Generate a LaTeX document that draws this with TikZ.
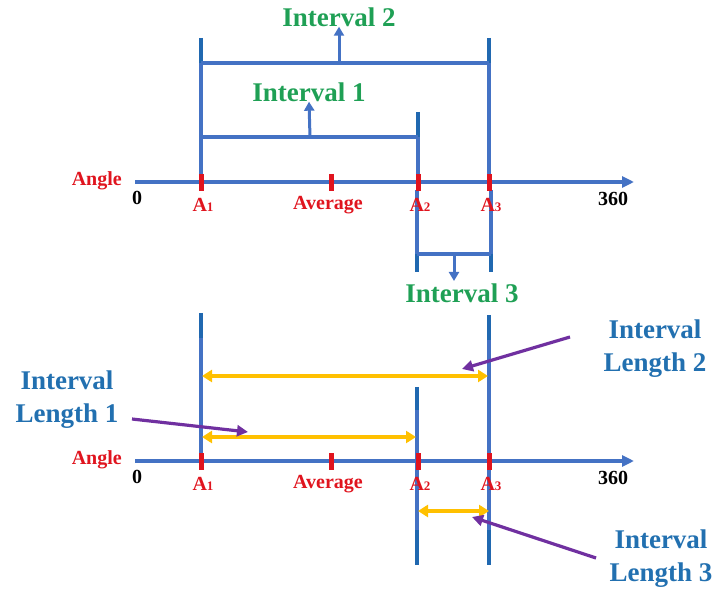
\documentclass[tikz,border=0pt]{standalone}
\usepackage{fontspec}
\setmainfont{Liberation Serif}
\usetikzlibrary{arrows.meta}
\definecolor{axisblue}{HTML}{4472C4}
\definecolor{barblue}{HTML}{2068B0}
\definecolor{tickred}{HTML}{E0141E}
\definecolor{lblgreen}{HTML}{1FA055}
\definecolor{lenblue}{HTML}{2270B0}
\definecolor{ylw}{HTML}{FFC000}
\definecolor{purp}{HTML}{7030A0}
\begin{document}
\begin{tikzpicture}[x=1pt,y=-1pt,
  axisline/.style={axisblue, line width=3.4pt, -{Triangle[length=12pt,width=11pt]}},
  thinbar/.style={axisblue, line width=3.2pt},
  thickbar/.style={barblue, line width=4.4pt},
  bracket/.style={axisblue, line width=3.2pt},
  uparrow/.style={axisblue, line width=3pt, -{Triangle[length=9pt,width=10pt]}},
  tickmark/.style={tickred, line width=5pt},
  ticklbl/.style={tickred, font=\fontsize{20}{22}\selectfont\bfseries, inner sep=0pt},
  numlbl/.style={black, font=\fontsize{20}{22}\selectfont\bfseries, inner sep=0pt},
  intlbl/.style={lblgreen, font=\fontsize{27}{30}\selectfont\bfseries, inner sep=0pt},
  lenlbl/.style={lenblue, font=\fontsize{27}{33}\selectfont\bfseries, inner sep=0pt, align=center},
  lenarrow/.style={ylw, line width=4pt, {Triangle[length=10pt,width=12pt]}-{Triangle[length=10pt,width=12pt]}},
  pointer/.style={purp, line width=3.2pt, -{Triangle[length=11pt,width=11pt]}}
]
\useasboundingbox (0,0) rectangle (715,593);

% ---------- top: intervals ----------
% interval 2 bracket
\coordinate (i2L0) at (201,38);  \coordinate (i2L1) at (201,63);  \coordinate (i2L2) at (201,182);
\coordinate (i2R0) at (489,38);  \coordinate (i2R1) at (489,63);  \coordinate (i2R2) at (489,182);
\draw[thickbar] (i2L0) -- (i2L1);
\draw[thickbar] (i2R0) -- (i2R1);
\draw[thinbar] (i2L1) -- (i2L2);
\draw[thinbar] (i2R1) -- (i2R2);
\draw[bracket] (i2L1) -- (i2R1);
\coordinate (i2m) at (339,63);
\node[intlbl] (int2) at (339,17) {Interval 2};
\draw[uparrow] (i2m) -- (int2.south);

% interval 1 bracket
\coordinate (i1L) at (201,137);
\coordinate (i1R0) at (418,112); \coordinate (i1R1) at (418,137); \coordinate (i1R2) at (418,182);
\draw[thickbar] (i1R0) -- (i1R1);
\draw[thinbar] (i1R1) -- (i1R2);
\draw[bracket] (i1L) -- (i1R1);
\coordinate (i1m) at (310,137);
\node[intlbl] (int1) at (309,92) {Interval 1};
\draw[uparrow] (i1m) -- (int1.south);

% interval 3 bracket (below axis)
\coordinate (i3L0) at (417,190); \coordinate (i3L1) at (417,254); \coordinate (i3L2) at (417,272);
\coordinate (i3R0) at (491,190); \coordinate (i3R1) at (491,254); \coordinate (i3R2) at (491,272);
\draw[thinbar] (i3L0) -- (i3L1);
\draw[thinbar] (i3R0) -- (i3R1);
\draw[thickbar] (i3L1) -- (i3L2);
\draw[thickbar] (i3R1) -- (i3R2);
\draw[bracket] (i3L1) -- (i3R1);
\coordinate (i3m) at (454,254);
\node[intlbl] (int3) at (462,293) {Interval 3};
\draw[uparrow] (i3m) -- (454,281);

% ---------- bottom: interval lengths ----------
\coordinate (bL0) at (201,313); \coordinate (bL1) at (201,338); \coordinate (bL2) at (201,461);
\coordinate (bR0) at (489,315); \coordinate (bR1) at (489,340); \coordinate (bR2) at (489,530); \coordinate (bR3) at (489,565);
\coordinate (bM0) at (417,387); \coordinate (bM1) at (417,410); \coordinate (bM2) at (417,530); \coordinate (bM3) at (417,565);
\draw[thickbar] (bL0) -- (bL1);
\draw[thinbar] (bL1) -- (bL2);
\draw[thickbar] (bR0) -- (bR1);
\draw[thinbar] (bR1) -- (bR2);
\draw[thickbar] (bR2) -- (bR3);
\draw[thickbar] (bM0) -- (bM1);
\draw[thinbar] (bM1) -- (bM2);
\draw[thickbar] (bM2) -- (bM3);

% ---------- two axes (drawn over the bars) ----------
\foreach \ay/\nm in {182/t,461/b}{
  \coordinate (ax0\nm) at (135,\ay);
  \coordinate (ax1\nm) at (634,\ay);
  \draw[axisline] (ax0\nm) -- (ax1\nm);
  \node[ticklbl, anchor=east] (angle\nm) at (122,\ay-1) {Angle};
  \node[numlbl] (zero\nm) at (137,\ay+16) {0};
  \node[numlbl] (full\nm) at (613,\ay+17) {360};
  \foreach \tx/\tn/\tl/\lx in {201/A1/{A{\fontsize{13}{13}\selectfont 1}}/203,
                          331/Av/{Average}/328,
                          418/A2/{A{\fontsize{13}{13}\selectfont 2}}/420,
                          489/A3/{A{\fontsize{13}{13}\selectfont 3}}/491}{
    \coordinate (\tn t\nm) at (\tx,\ay-8);
    \coordinate (\tn b\nm) at (\tx,\ay+9);
    \draw[tickmark] (\tn t\nm) -- (\tn b\nm);
    \node[ticklbl] (\tn l\nm) at (\lx,\ay+23) {\tl};
  }
}

% yellow length arrows
\coordinate (l2a) at (202,376); \coordinate (l2b) at (488,376);
\coordinate (l1a) at (202,437); \coordinate (l1b) at (416,437);
\coordinate (l3a) at (418,511); \coordinate (l3b) at (489,511);
\draw[lenarrow] (l2a) -- (l2b);
\draw[lenarrow] (l1a) -- (l1b);
\draw[lenarrow] (l3a) -- (l3b);

% labels and pointers
\node[lenlbl] (len2) at (655,349) {Interval\\Length 2};
\node[lenlbl] (len1) at (67,400) {Interval\\Length 1};
\node[lenlbl] (len3) at (661,559) {Interval\\Length 3};
\coordinate (p2s) at (570,337); \coordinate (p2e) at (462,369);
\coordinate (p1s) at (132,419); \coordinate (p1e) at (248,432);
\coordinate (p3s) at (596,558); \coordinate (p3e) at (472,517);
\draw[pointer] (p2s) -- (p2e);
\draw[pointer] (p1s) -- (p1e);
\draw[pointer] (p3s) -- (p3e);
\end{tikzpicture}
\end{document}
